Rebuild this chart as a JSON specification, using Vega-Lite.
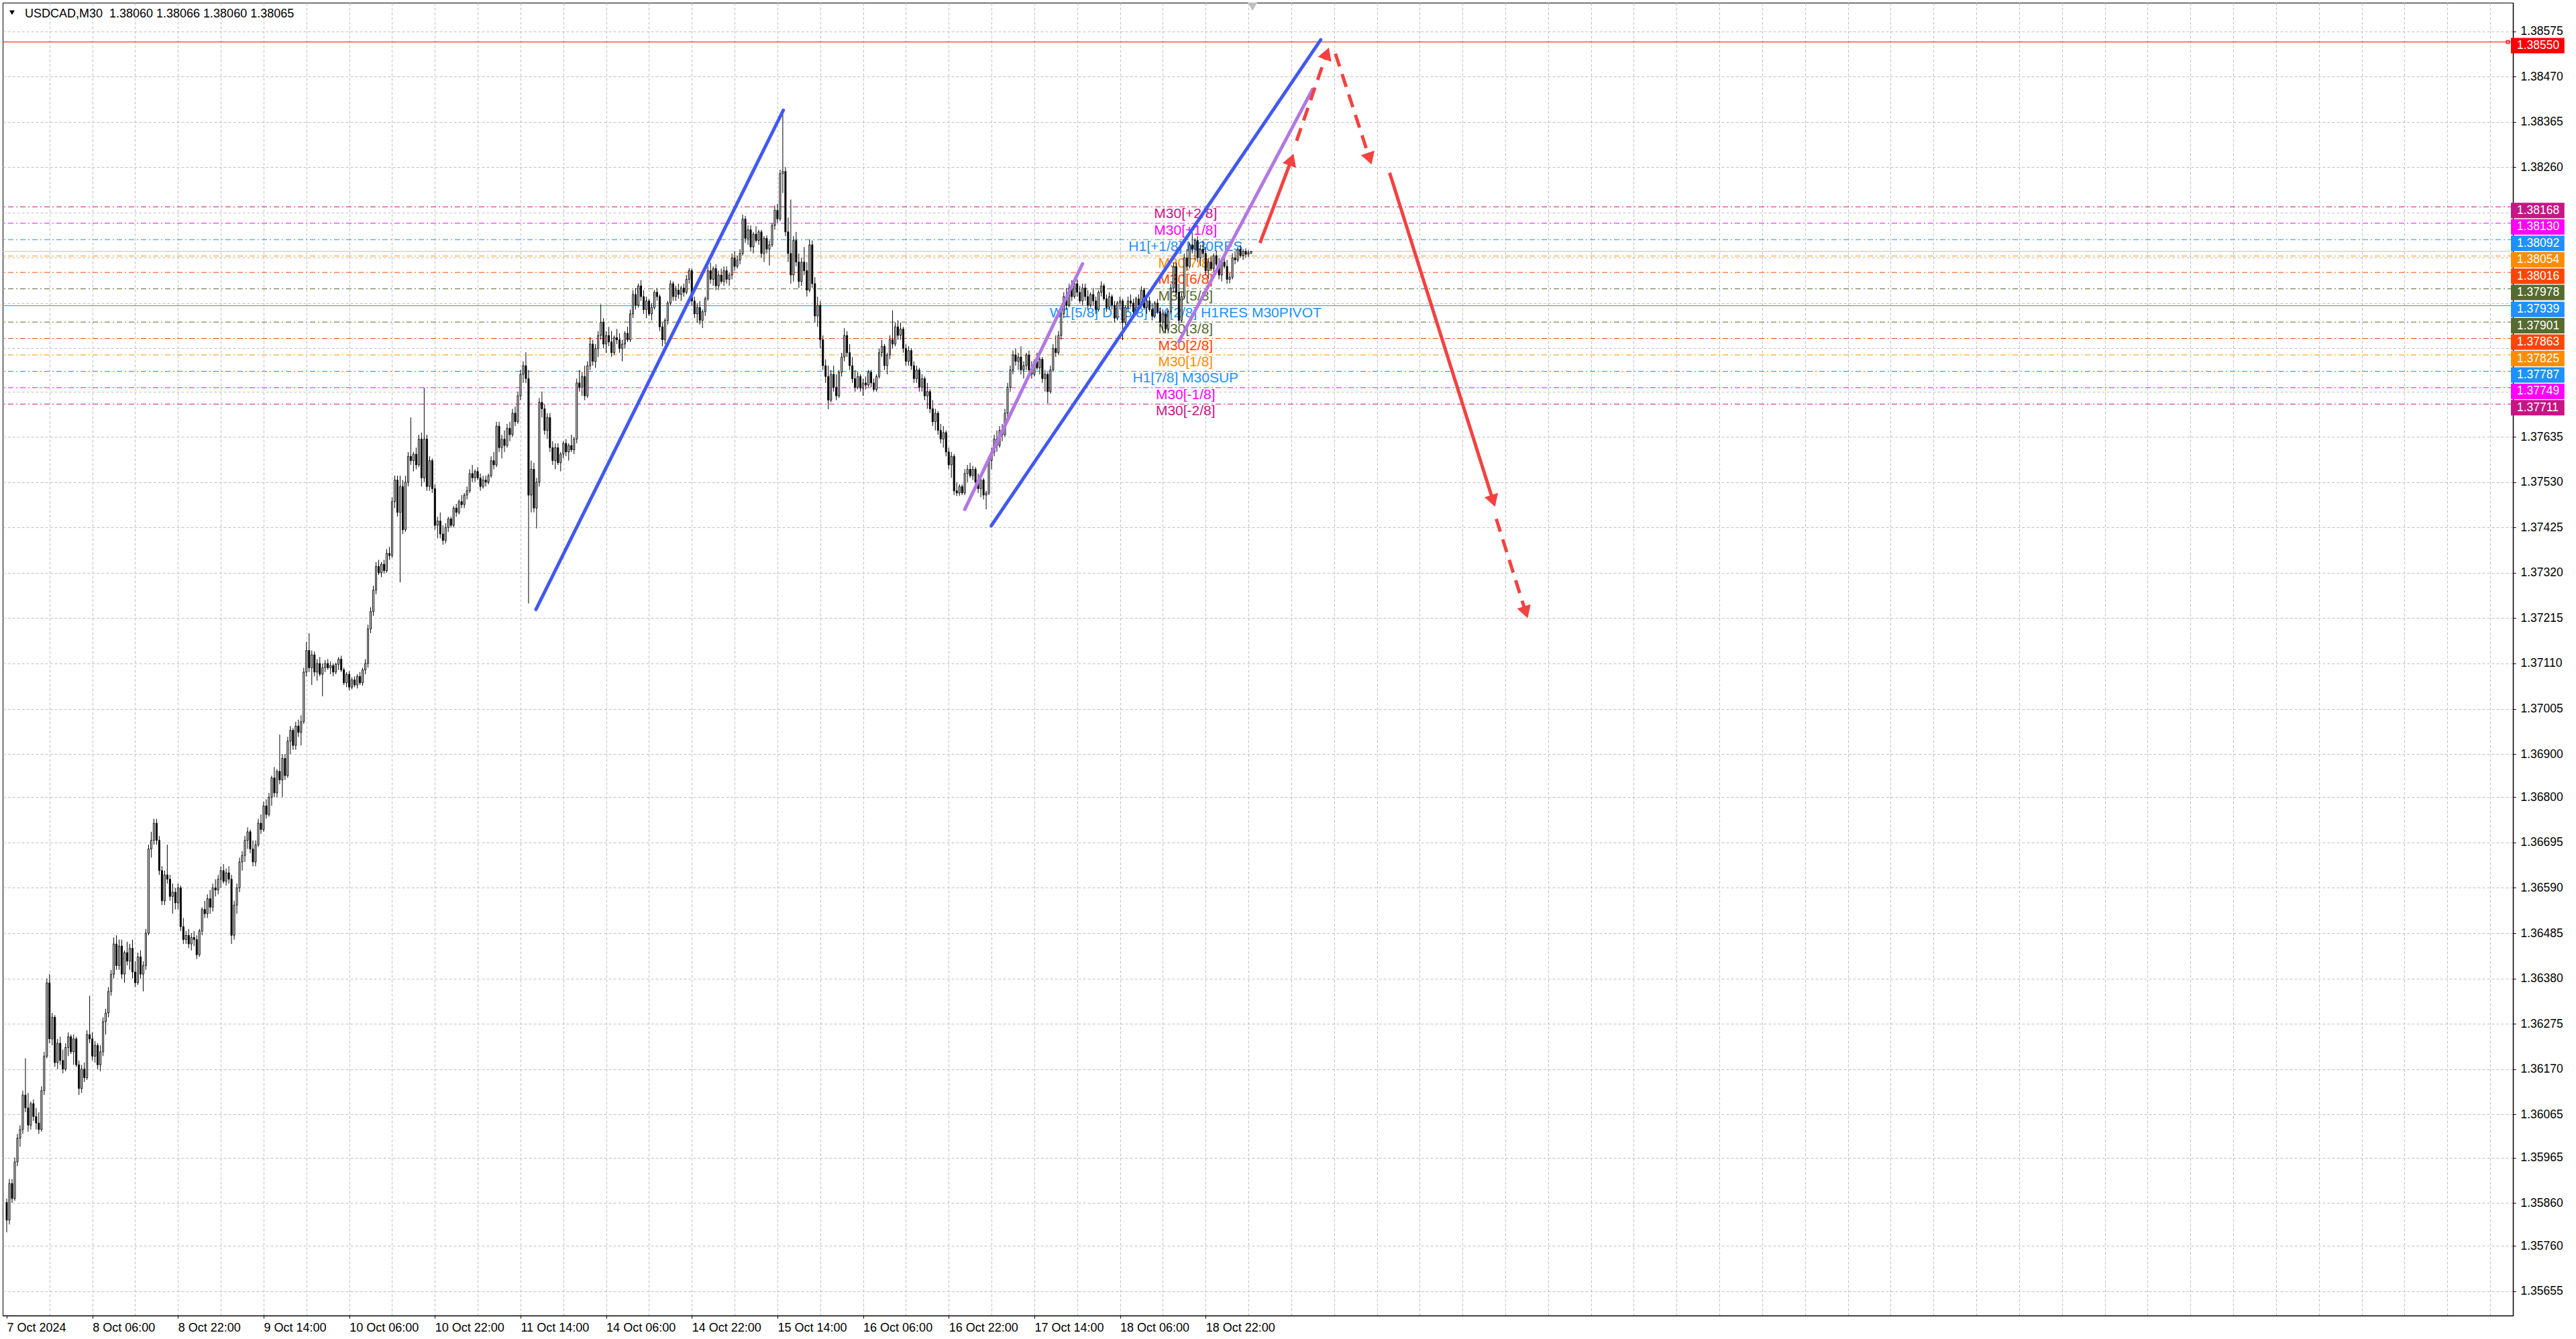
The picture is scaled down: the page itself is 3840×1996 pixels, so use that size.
{
"$schema":"https://vega.github.io/schema/vega-lite/v6.json",
"width":3742,"height":1957,
"autosize":{"type":"none"},
"padding":{"left":4,"top":4,"right":94,"bottom":35},
"background":"white",
"config":{"view":{"stroke":"black","strokeWidth":1},"font":"Liberation Sans"},
"datasets":{
"header":[{"text":"USDCAD,M30\u00a0\u00a01.38060 1.38066 1.38060 1.38065"}],
"levels":[
{"id":"tgt","label":"","price":1.38550},
{"id":"p2","label":"M30[+2/8]","price":1.38168},
{"id":"p1","label":"M30[+1/8]","price":1.38130},
{"id":"h1r","label":"H1[+1/8] M30RES","price":1.38092},
{"id":"m7","label":"M30[7/8]","price":1.38054},
{"id":"m6","label":"M30[6/8]","price":1.38016},
{"id":"m5","label":"M30[5/8]","price":1.37978},
{"id":"piv","label":"W1[5/8] D1[5/8] H4[2/8] H1RES M30PIVOT","price":1.37939},
{"id":"m3","label":"M30[3/8]","price":1.37901},
{"id":"m2","label":"M30[2/8]","price":1.37863},
{"id":"m1","label":"M30[1/8]","price":1.37825},
{"id":"h1s","label":"H1[7/8] M30SUP","price":1.37787},
{"id":"n1","label":"M30[-1/8]","price":1.37749},
{"id":"n2","label":"M30[-2/8]","price":1.37711},
{"id":"bid","label":"","price":1.38065}
],
"trend":[
{"id":"b1","k1":197.75,"p1":1.37235,"k2":290.2,"p2":1.38392},
{"id":"b2","k1":367.9,"p1":1.37429,"k2":491.0,"p2":1.38555},
{"id":"u1","k1":358.0,"p1":1.37467,"k2":402.0,"p2":1.38036},
{"id":"u2","k1":438.0,"p1":1.37856,"k2":487.9,"p2":1.38440}
],
"arrows":[
{"id":"a1","k1":468.3,"p1":1.38084,"k2":479.8,"p2":1.38273},
{"id":"a2","k1":482.0,"p1":1.38321,"k2":493.0,"p2":1.38519},
{"id":"a3","k1":496.5,"p1":1.38523,"k2":509.05,"p2":1.38284},
{"id":"a4","k1":516.75,"p1":1.38247,"k2":555.2,"p2":1.37491},
{"id":"a5","k1":556.6,"p1":1.37445,"k2":567.4,"p2":1.37233}
],
"bars":[
{"i":0,"o":1.35861,"h":1.35870,"l":1.35792,"c":1.35820},
{"i":1,"o":1.35820,"h":1.35915,"l":1.35810,"c":1.35905},
{"i":2,"o":1.35905,"h":1.35915,"l":1.35860,"c":1.35870},
{"i":3,"o":1.35870,"h":1.35965,"l":1.35865,"c":1.35955},
{"i":4,"o":1.35955,"h":1.36020,"l":1.35945,"c":1.36010},
{"i":5,"o":1.36010,"h":1.36040,"l":1.35990,"c":1.36030},
{"i":6,"o":1.36030,"h":1.36120,"l":1.36020,"c":1.36110},
{"i":7,"o":1.36110,"h":1.36195,"l":1.36070,"c":1.36080},
{"i":8,"o":1.36080,"h":1.36115,"l":1.36025,"c":1.36040},
{"i":9,"o":1.36040,"h":1.36095,"l":1.36030,"c":1.36090},
{"i":10,"o":1.36090,"h":1.36100,"l":1.36050,"c":1.36060},
{"i":11,"o":1.36060,"h":1.36080,"l":1.36030,"c":1.36045},
{"i":12,"o":1.36045,"h":1.36070,"l":1.36020,"c":1.36030},
{"i":13,"o":1.36030,"h":1.36130,"l":1.36025,"c":1.36120},
{"i":14,"o":1.36120,"h":1.36210,"l":1.36110,"c":1.36200},
{"i":15,"o":1.36200,"h":1.36380,"l":1.36195,"c":1.36370},
{"i":16,"o":1.36370,"h":1.36390,"l":1.36230,"c":1.36240},
{"i":17,"o":1.36240,"h":1.36300,"l":1.36225,"c":1.36290},
{"i":18,"o":1.36290,"h":1.36295,"l":1.36175,"c":1.36185},
{"i":19,"o":1.36185,"h":1.36240,"l":1.36170,"c":1.36230},
{"i":20,"o":1.36230,"h":1.36245,"l":1.36180,"c":1.36190},
{"i":21,"o":1.36190,"h":1.36215,"l":1.36160,"c":1.36170},
{"i":22,"o":1.36170,"h":1.36230,"l":1.36165,"c":1.36220},
{"i":23,"o":1.36220,"h":1.36255,"l":1.36200,"c":1.36245},
{"i":24,"o":1.36245,"h":1.36250,"l":1.36205,"c":1.36210},
{"i":25,"o":1.36210,"h":1.36250,"l":1.36180,"c":1.36240},
{"i":26,"o":1.36240,"h":1.36245,"l":1.36175,"c":1.36180},
{"i":27,"o":1.36180,"h":1.36190,"l":1.36110,"c":1.36125},
{"i":28,"o":1.36125,"h":1.36180,"l":1.36115,"c":1.36170},
{"i":29,"o":1.36170,"h":1.36185,"l":1.36140,"c":1.36150},
{"i":30,"o":1.36150,"h":1.36260,"l":1.36145,"c":1.36250},
{"i":31,"o":1.36250,"h":1.36340,"l":1.36230,"c":1.36240},
{"i":32,"o":1.36240,"h":1.36255,"l":1.36190,"c":1.36200},
{"i":33,"o":1.36200,"h":1.36235,"l":1.36185,"c":1.36225},
{"i":34,"o":1.36225,"h":1.36230,"l":1.36170,"c":1.36180},
{"i":35,"o":1.36180,"h":1.36225,"l":1.36165,"c":1.36210},
{"i":36,"o":1.36210,"h":1.36290,"l":1.36200,"c":1.36280},
{"i":37,"o":1.36280,"h":1.36310,"l":1.36250,"c":1.36300},
{"i":38,"o":1.36300,"h":1.36360,"l":1.36290,"c":1.36350},
{"i":39,"o":1.36350,"h":1.36400,"l":1.36340,"c":1.36390},
{"i":40,"o":1.36390,"h":1.36475,"l":1.36380,"c":1.36460},
{"i":41,"o":1.36460,"h":1.36480,"l":1.36400,"c":1.36410},
{"i":42,"o":1.36410,"h":1.36470,"l":1.36400,"c":1.36455},
{"i":43,"o":1.36455,"h":1.36470,"l":1.36380,"c":1.36390},
{"i":44,"o":1.36390,"h":1.36445,"l":1.36370,"c":1.36440},
{"i":45,"o":1.36440,"h":1.36465,"l":1.36410,"c":1.36420},
{"i":46,"o":1.36420,"h":1.36460,"l":1.36400,"c":1.36450},
{"i":47,"o":1.36450,"h":1.36470,"l":1.36380,"c":1.36395},
{"i":48,"o":1.36395,"h":1.36420,"l":1.36360,"c":1.36370},
{"i":49,"o":1.36370,"h":1.36440,"l":1.36365,"c":1.36430},
{"i":50,"o":1.36430,"h":1.36445,"l":1.36380,"c":1.36390},
{"i":51,"o":1.36390,"h":1.36420,"l":1.36350,"c":1.36410},
{"i":52,"o":1.36410,"h":1.36495,"l":1.36400,"c":1.36485},
{"i":53,"o":1.36485,"h":1.36690,"l":1.36480,"c":1.36680},
{"i":54,"o":1.36680,"h":1.36720,"l":1.36660,"c":1.36700},
{"i":55,"o":1.36700,"h":1.36750,"l":1.36690,"c":1.36740},
{"i":56,"o":1.36740,"h":1.36750,"l":1.36690,"c":1.36700},
{"i":57,"o":1.36700,"h":1.36710,"l":1.36620,"c":1.36630},
{"i":58,"o":1.36630,"h":1.36640,"l":1.36550,"c":1.36560},
{"i":59,"o":1.36560,"h":1.36630,"l":1.36550,"c":1.36620},
{"i":60,"o":1.36620,"h":1.36690,"l":1.36600,"c":1.36610},
{"i":61,"o":1.36610,"h":1.36620,"l":1.36560,"c":1.36570},
{"i":62,"o":1.36570,"h":1.36600,"l":1.36530,"c":1.36580},
{"i":63,"o":1.36580,"h":1.36590,"l":1.36540,"c":1.36555},
{"i":64,"o":1.36555,"h":1.36600,"l":1.36540,"c":1.36590},
{"i":65,"o":1.36590,"h":1.36595,"l":1.36490,"c":1.36500},
{"i":66,"o":1.36500,"h":1.36520,"l":1.36460,"c":1.36470},
{"i":67,"o":1.36470,"h":1.36490,"l":1.36460,"c":1.36480},
{"i":68,"o":1.36480,"h":1.36495,"l":1.36450,"c":1.36460},
{"i":69,"o":1.36460,"h":1.36485,"l":1.36445,"c":1.36475},
{"i":70,"o":1.36475,"h":1.36490,"l":1.36455,"c":1.36470},
{"i":71,"o":1.36470,"h":1.36480,"l":1.36425,"c":1.36435},
{"i":72,"o":1.36435,"h":1.36495,"l":1.36430,"c":1.36490},
{"i":73,"o":1.36490,"h":1.36545,"l":1.36480,"c":1.36540},
{"i":74,"o":1.36540,"h":1.36560,"l":1.36520,"c":1.36530},
{"i":75,"o":1.36530,"h":1.36575,"l":1.36520,"c":1.36565},
{"i":76,"o":1.36565,"h":1.36585,"l":1.36530,"c":1.36545},
{"i":77,"o":1.36545,"h":1.36600,"l":1.36535,"c":1.36590},
{"i":78,"o":1.36590,"h":1.36610,"l":1.36570,"c":1.36585},
{"i":79,"o":1.36585,"h":1.36620,"l":1.36575,"c":1.36610},
{"i":80,"o":1.36610,"h":1.36640,"l":1.36590,"c":1.36630},
{"i":81,"o":1.36630,"h":1.36645,"l":1.36600,"c":1.36605},
{"i":82,"o":1.36605,"h":1.36635,"l":1.36595,"c":1.36625},
{"i":83,"o":1.36625,"h":1.36640,"l":1.36600,"c":1.36610},
{"i":84,"o":1.36610,"h":1.36620,"l":1.36460,"c":1.36480},
{"i":85,"o":1.36480,"h":1.36560,"l":1.36470,"c":1.36550},
{"i":86,"o":1.36550,"h":1.36600,"l":1.36530,"c":1.36590},
{"i":87,"o":1.36590,"h":1.36660,"l":1.36580,"c":1.36650},
{"i":88,"o":1.36650,"h":1.36675,"l":1.36630,"c":1.36665},
{"i":89,"o":1.36665,"h":1.36710,"l":1.36650,"c":1.36700},
{"i":90,"o":1.36700,"h":1.36730,"l":1.36680,"c":1.36720},
{"i":91,"o":1.36720,"h":1.36725,"l":1.36670,"c":1.36680},
{"i":92,"o":1.36680,"h":1.36700,"l":1.36640,"c":1.36650},
{"i":93,"o":1.36650,"h":1.36700,"l":1.36640,"c":1.36690},
{"i":94,"o":1.36690,"h":1.36750,"l":1.36685,"c":1.36740},
{"i":95,"o":1.36740,"h":1.36760,"l":1.36715,"c":1.36725},
{"i":96,"o":1.36725,"h":1.36790,"l":1.36720,"c":1.36780},
{"i":97,"o":1.36780,"h":1.36795,"l":1.36750,"c":1.36760},
{"i":98,"o":1.36760,"h":1.36810,"l":1.36755,"c":1.36800},
{"i":99,"o":1.36800,"h":1.36850,"l":1.36780,"c":1.36845},
{"i":100,"o":1.36845,"h":1.36870,"l":1.36800,"c":1.36810},
{"i":101,"o":1.36810,"h":1.36865,"l":1.36800,"c":1.36860},
{"i":102,"o":1.36860,"h":1.36945,"l":1.36830,"c":1.36840},
{"i":103,"o":1.36840,"h":1.36900,"l":1.36800,"c":1.36890},
{"i":104,"o":1.36890,"h":1.36900,"l":1.36840,"c":1.36850},
{"i":105,"o":1.36850,"h":1.36940,"l":1.36845,"c":1.36930},
{"i":106,"o":1.36930,"h":1.36965,"l":1.36900,"c":1.36955},
{"i":107,"o":1.36955,"h":1.36960,"l":1.36910,"c":1.36920},
{"i":108,"o":1.36920,"h":1.36975,"l":1.36910,"c":1.36965},
{"i":109,"o":1.36965,"h":1.36980,"l":1.36940,"c":1.36950},
{"i":110,"o":1.36950,"h":1.36990,"l":1.36920,"c":1.36975},
{"i":111,"o":1.36975,"h":1.37100,"l":1.36970,"c":1.37090},
{"i":112,"o":1.37090,"h":1.37160,"l":1.37080,"c":1.37140},
{"i":113,"o":1.37140,"h":1.37180,"l":1.37090,"c":1.37100},
{"i":114,"o":1.37100,"h":1.37140,"l":1.37060,"c":1.37130},
{"i":115,"o":1.37130,"h":1.37138,"l":1.37080,"c":1.37090},
{"i":116,"o":1.37090,"h":1.37120,"l":1.37070,"c":1.37110},
{"i":117,"o":1.37110,"h":1.37125,"l":1.37080,"c":1.37085},
{"i":118,"o":1.37085,"h":1.37110,"l":1.37034,"c":1.37100},
{"i":119,"o":1.37100,"h":1.37118,"l":1.37090,"c":1.37110},
{"i":120,"o":1.37110,"h":1.37120,"l":1.37095,"c":1.37100},
{"i":121,"o":1.37100,"h":1.37115,"l":1.37085,"c":1.37105},
{"i":122,"o":1.37105,"h":1.37110,"l":1.37080,"c":1.37090},
{"i":123,"o":1.37090,"h":1.37112,"l":1.37085,"c":1.37108},
{"i":124,"o":1.37108,"h":1.37125,"l":1.37095,"c":1.37120},
{"i":125,"o":1.37120,"h":1.37128,"l":1.37090,"c":1.37095},
{"i":126,"o":1.37095,"h":1.37100,"l":1.37060,"c":1.37065},
{"i":127,"o":1.37065,"h":1.37090,"l":1.37055,"c":1.37085},
{"i":128,"o":1.37085,"h":1.37092,"l":1.37048,"c":1.37055},
{"i":129,"o":1.37055,"h":1.37078,"l":1.37050,"c":1.37072},
{"i":130,"o":1.37072,"h":1.37080,"l":1.37055,"c":1.37060},
{"i":131,"o":1.37060,"h":1.37085,"l":1.37052,"c":1.37080},
{"i":132,"o":1.37080,"h":1.37090,"l":1.37060,"c":1.37065},
{"i":133,"o":1.37065,"h":1.37100,"l":1.37058,"c":1.37095},
{"i":134,"o":1.37095,"h":1.37120,"l":1.37085,"c":1.37110},
{"i":135,"o":1.37110,"h":1.37200,"l":1.37100,"c":1.37190},
{"i":136,"o":1.37190,"h":1.37240,"l":1.37180,"c":1.37230},
{"i":137,"o":1.37230,"h":1.37290,"l":1.37220,"c":1.37280},
{"i":138,"o":1.37280,"h":1.37345,"l":1.37270,"c":1.37335},
{"i":139,"o":1.37335,"h":1.37350,"l":1.37315,"c":1.37320},
{"i":140,"o":1.37320,"h":1.37345,"l":1.37310,"c":1.37340},
{"i":141,"o":1.37340,"h":1.37350,"l":1.37318,"c":1.37325},
{"i":142,"o":1.37325,"h":1.37375,"l":1.37320,"c":1.37365},
{"i":143,"o":1.37365,"h":1.37380,"l":1.37350,"c":1.37360},
{"i":144,"o":1.37360,"h":1.37495,"l":1.37355,"c":1.37485},
{"i":145,"o":1.37485,"h":1.37545,"l":1.37470,"c":1.37535},
{"i":146,"o":1.37535,"h":1.37545,"l":1.37450,"c":1.37460},
{"i":147,"o":1.37460,"h":1.37545,"l":1.37298,"c":1.37520},
{"i":148,"o":1.37520,"h":1.37535,"l":1.37410,"c":1.37420},
{"i":149,"o":1.37420,"h":1.37545,"l":1.37415,"c":1.37530},
{"i":150,"o":1.37530,"h":1.37600,"l":1.37520,"c":1.37590},
{"i":151,"o":1.37590,"h":1.37680,"l":1.37570,"c":1.37580},
{"i":152,"o":1.37580,"h":1.37600,"l":1.37555,"c":1.37595},
{"i":153,"o":1.37595,"h":1.37610,"l":1.37560,"c":1.37570},
{"i":154,"o":1.37570,"h":1.37640,"l":1.37565,"c":1.37630},
{"i":155,"o":1.37630,"h":1.37645,"l":1.37520,"c":1.37540},
{"i":156,"o":1.37540,"h":1.37749,"l":1.37530,"c":1.37630},
{"i":157,"o":1.37630,"h":1.37640,"l":1.37510,"c":1.37520},
{"i":158,"o":1.37520,"h":1.37590,"l":1.37510,"c":1.37580},
{"i":159,"o":1.37580,"h":1.37585,"l":1.37505,"c":1.37515},
{"i":160,"o":1.37515,"h":1.37525,"l":1.37420,"c":1.37430},
{"i":161,"o":1.37430,"h":1.37450,"l":1.37400,"c":1.37440},
{"i":162,"o":1.37440,"h":1.37460,"l":1.37400,"c":1.37410},
{"i":163,"o":1.37410,"h":1.37430,"l":1.37385,"c":1.37395},
{"i":164,"o":1.37395,"h":1.37435,"l":1.37388,"c":1.37425},
{"i":165,"o":1.37425,"h":1.37450,"l":1.37415,"c":1.37445},
{"i":166,"o":1.37445,"h":1.37450,"l":1.37425,"c":1.37430},
{"i":167,"o":1.37430,"h":1.37475,"l":1.37425,"c":1.37470},
{"i":168,"o":1.37470,"h":1.37480,"l":1.37450,"c":1.37460},
{"i":169,"o":1.37460,"h":1.37490,"l":1.37455,"c":1.37485},
{"i":170,"o":1.37485,"h":1.37500,"l":1.37470,"c":1.37478},
{"i":171,"o":1.37478,"h":1.37505,"l":1.37470,"c":1.37500},
{"i":172,"o":1.37500,"h":1.37520,"l":1.37490,"c":1.37510},
{"i":173,"o":1.37510,"h":1.37560,"l":1.37505,"c":1.37550},
{"i":174,"o":1.37550,"h":1.37570,"l":1.37530,"c":1.37540},
{"i":175,"o":1.37540,"h":1.37560,"l":1.37530,"c":1.37555},
{"i":176,"o":1.37555,"h":1.37565,"l":1.37535,"c":1.37540},
{"i":177,"o":1.37540,"h":1.37550,"l":1.37510,"c":1.37520},
{"i":178,"o":1.37520,"h":1.37545,"l":1.37515,"c":1.37535},
{"i":179,"o":1.37535,"h":1.37545,"l":1.37520,"c":1.37530},
{"i":180,"o":1.37530,"h":1.37550,"l":1.37525,"c":1.37545},
{"i":181,"o":1.37545,"h":1.37590,"l":1.37540,"c":1.37580},
{"i":182,"o":1.37580,"h":1.37600,"l":1.37560,"c":1.37570},
{"i":183,"o":1.37570,"h":1.37670,"l":1.37565,"c":1.37660},
{"i":184,"o":1.37660,"h":1.37670,"l":1.37600,"c":1.37610},
{"i":185,"o":1.37610,"h":1.37640,"l":1.37585,"c":1.37630},
{"i":186,"o":1.37630,"h":1.37650,"l":1.37600,"c":1.37615},
{"i":187,"o":1.37615,"h":1.37665,"l":1.37610,"c":1.37655},
{"i":188,"o":1.37655,"h":1.37670,"l":1.37625,"c":1.37640},
{"i":189,"o":1.37640,"h":1.37700,"l":1.37635,"c":1.37690},
{"i":190,"o":1.37690,"h":1.37705,"l":1.37660,"c":1.37670},
{"i":191,"o":1.37670,"h":1.37740,"l":1.37665,"c":1.37730},
{"i":192,"o":1.37730,"h":1.37790,"l":1.37720,"c":1.37780},
{"i":193,"o":1.37780,"h":1.37810,"l":1.37760,"c":1.37800},
{"i":194,"o":1.37800,"h":1.37831,"l":1.37760,"c":1.37770},
{"i":195,"o":1.37770,"h":1.37790,"l":1.37249,"c":1.37500},
{"i":196,"o":1.37500,"h":1.37580,"l":1.37460,"c":1.37560},
{"i":197,"o":1.37560,"h":1.37575,"l":1.37460,"c":1.37470},
{"i":198,"o":1.37470,"h":1.37540,"l":1.37423,"c":1.37530},
{"i":199,"o":1.37530,"h":1.37725,"l":1.37520,"c":1.37715},
{"i":200,"o":1.37715,"h":1.37740,"l":1.37680,"c":1.37700},
{"i":201,"o":1.37700,"h":1.37710,"l":1.37640,"c":1.37650},
{"i":202,"o":1.37650,"h":1.37690,"l":1.37630,"c":1.37680},
{"i":203,"o":1.37680,"h":1.37690,"l":1.37600,"c":1.37610},
{"i":204,"o":1.37610,"h":1.37625,"l":1.37570,"c":1.37580},
{"i":205,"o":1.37580,"h":1.37620,"l":1.37560,"c":1.37610},
{"i":206,"o":1.37610,"h":1.37620,"l":1.37570,"c":1.37575},
{"i":207,"o":1.37575,"h":1.37600,"l":1.37555,"c":1.37595},
{"i":208,"o":1.37595,"h":1.37625,"l":1.37585,"c":1.37620},
{"i":209,"o":1.37620,"h":1.37630,"l":1.37590,"c":1.37600},
{"i":210,"o":1.37600,"h":1.37620,"l":1.37580,"c":1.37615},
{"i":211,"o":1.37615,"h":1.37640,"l":1.37600,"c":1.37605},
{"i":212,"o":1.37605,"h":1.37635,"l":1.37595,"c":1.37630},
{"i":213,"o":1.37630,"h":1.37770,"l":1.37620,"c":1.37760},
{"i":214,"o":1.37760,"h":1.37790,"l":1.37740,"c":1.37750},
{"i":215,"o":1.37750,"h":1.37785,"l":1.37730,"c":1.37775},
{"i":216,"o":1.37775,"h":1.37800,"l":1.37720,"c":1.37730},
{"i":217,"o":1.37730,"h":1.37810,"l":1.37725,"c":1.37800},
{"i":218,"o":1.37800,"h":1.37866,"l":1.37790,"c":1.37850},
{"i":219,"o":1.37850,"h":1.37860,"l":1.37800,"c":1.37810},
{"i":220,"o":1.37810,"h":1.37850,"l":1.37795,"c":1.37840},
{"i":221,"o":1.37840,"h":1.37880,"l":1.37820,"c":1.37870},
{"i":222,"o":1.37870,"h":1.37942,"l":1.37860,"c":1.37900},
{"i":223,"o":1.37900,"h":1.37910,"l":1.37840,"c":1.37850},
{"i":224,"o":1.37850,"h":1.37880,"l":1.37830,"c":1.37870},
{"i":225,"o":1.37870,"h":1.37890,"l":1.37845,"c":1.37855},
{"i":226,"o":1.37855,"h":1.37880,"l":1.37820,"c":1.37830},
{"i":227,"o":1.37830,"h":1.37870,"l":1.37825,"c":1.37865},
{"i":228,"o":1.37865,"h":1.37885,"l":1.37850,"c":1.37860},
{"i":229,"o":1.37860,"h":1.37875,"l":1.37830,"c":1.37840},
{"i":230,"o":1.37840,"h":1.37860,"l":1.37810,"c":1.37850},
{"i":231,"o":1.37850,"h":1.37880,"l":1.37840,"c":1.37875},
{"i":232,"o":1.37875,"h":1.37890,"l":1.37855,"c":1.37860},
{"i":233,"o":1.37860,"h":1.37930,"l":1.37855,"c":1.37920},
{"i":234,"o":1.37920,"h":1.37975,"l":1.37910,"c":1.37965},
{"i":235,"o":1.37965,"h":1.37980,"l":1.37930,"c":1.37940},
{"i":236,"o":1.37940,"h":1.37990,"l":1.37935,"c":1.37985},
{"i":237,"o":1.37985,"h":1.37998,"l":1.37950,"c":1.37960},
{"i":238,"o":1.37960,"h":1.37975,"l":1.37920,"c":1.37930},
{"i":239,"o":1.37930,"h":1.37960,"l":1.37910,"c":1.37950},
{"i":240,"o":1.37950,"h":1.37955,"l":1.37915,"c":1.37920},
{"i":241,"o":1.37920,"h":1.37945,"l":1.37905,"c":1.37935},
{"i":242,"o":1.37935,"h":1.37975,"l":1.37930,"c":1.37970},
{"i":243,"o":1.37970,"h":1.37980,"l":1.37950,"c":1.37960},
{"i":244,"o":1.37960,"h":1.37965,"l":1.37880,"c":1.37890},
{"i":245,"o":1.37890,"h":1.37900,"l":1.37845,"c":1.37860},
{"i":246,"o":1.37860,"h":1.37910,"l":1.37850,"c":1.37905},
{"i":247,"o":1.37905,"h":1.37950,"l":1.37895,"c":1.37945},
{"i":248,"o":1.37945,"h":1.37998,"l":1.37940,"c":1.37990},
{"i":249,"o":1.37990,"h":1.37995,"l":1.37950,"c":1.37960},
{"i":250,"o":1.37960,"h":1.37985,"l":1.37950,"c":1.37975},
{"i":251,"o":1.37975,"h":1.37990,"l":1.37955,"c":1.37965},
{"i":252,"o":1.37965,"h":1.37985,"l":1.37950,"c":1.37980},
{"i":253,"o":1.37980,"h":1.37990,"l":1.37960,"c":1.37970},
{"i":254,"o":1.37970,"h":1.38010,"l":1.37965,"c":1.38000},
{"i":255,"o":1.38000,"h":1.38026,"l":1.37990,"c":1.38020},
{"i":256,"o":1.38020,"h":1.38025,"l":1.37940,"c":1.37950},
{"i":257,"o":1.37950,"h":1.37960,"l":1.37910,"c":1.37920},
{"i":258,"o":1.37920,"h":1.37945,"l":1.37900,"c":1.37935},
{"i":259,"o":1.37935,"h":1.37950,"l":1.37895,"c":1.37905},
{"i":260,"o":1.37905,"h":1.37930,"l":1.37887,"c":1.37925},
{"i":261,"o":1.37925,"h":1.37960,"l":1.37915,"c":1.37955},
{"i":262,"o":1.37955,"h":1.38030,"l":1.37950,"c":1.38020},
{"i":263,"o":1.38020,"h":1.38039,"l":1.37990,"c":1.38000},
{"i":264,"o":1.38000,"h":1.38030,"l":1.37985,"c":1.38025},
{"i":265,"o":1.38025,"h":1.38035,"l":1.37975,"c":1.37985},
{"i":266,"o":1.37985,"h":1.38020,"l":1.37975,"c":1.38010},
{"i":267,"o":1.38010,"h":1.38025,"l":1.37990,"c":1.37995},
{"i":268,"o":1.37995,"h":1.38030,"l":1.37985,"c":1.38020},
{"i":269,"o":1.38020,"h":1.38030,"l":1.37990,"c":1.38000},
{"i":270,"o":1.38000,"h":1.38015,"l":1.37985,"c":1.38010},
{"i":271,"o":1.38010,"h":1.38060,"l":1.38000,"c":1.38050},
{"i":272,"o":1.38050,"h":1.38065,"l":1.38020,"c":1.38030},
{"i":273,"o":1.38030,"h":1.38055,"l":1.38025,"c":1.38045},
{"i":274,"o":1.38045,"h":1.38070,"l":1.38035,"c":1.38060},
{"i":275,"o":1.38060,"h":1.38150,"l":1.38055,"c":1.38140},
{"i":276,"o":1.38140,"h":1.38147,"l":1.38085,"c":1.38095},
{"i":277,"o":1.38095,"h":1.38125,"l":1.38080,"c":1.38115},
{"i":278,"o":1.38115,"h":1.38125,"l":1.38065,"c":1.38075},
{"i":279,"o":1.38075,"h":1.38110,"l":1.38060,"c":1.38105},
{"i":280,"o":1.38105,"h":1.38123,"l":1.38085,"c":1.38090},
{"i":281,"o":1.38090,"h":1.38115,"l":1.38080,"c":1.38110},
{"i":282,"o":1.38110,"h":1.38115,"l":1.38050,"c":1.38060},
{"i":283,"o":1.38060,"h":1.38100,"l":1.38040,"c":1.38095},
{"i":284,"o":1.38095,"h":1.38102,"l":1.38060,"c":1.38070},
{"i":285,"o":1.38070,"h":1.38090,"l":1.38032,"c":1.38080},
{"i":286,"o":1.38080,"h":1.38130,"l":1.38075,"c":1.38125},
{"i":287,"o":1.38125,"h":1.38171,"l":1.38115,"c":1.38160},
{"i":288,"o":1.38160,"h":1.38175,"l":1.38130,"c":1.38140},
{"i":289,"o":1.38140,"h":1.38254,"l":1.38135,"c":1.38245},
{"i":290,"o":1.38245,"h":1.38386,"l":1.38200,"c":1.38250},
{"i":291,"o":1.38250,"h":1.38260,"l":1.38100,"c":1.38110},
{"i":292,"o":1.38110,"h":1.38143,"l":1.38040,"c":1.38060},
{"i":293,"o":1.38060,"h":1.38185,"l":1.37990,"c":1.38010},
{"i":294,"o":1.38010,"h":1.38100,"l":1.37995,"c":1.38090},
{"i":295,"o":1.38090,"h":1.38110,"l":1.38030,"c":1.38040},
{"i":296,"o":1.38040,"h":1.38060,"l":1.37980,"c":1.37995},
{"i":297,"o":1.37995,"h":1.38050,"l":1.37985,"c":1.38040},
{"i":298,"o":1.38040,"h":1.38075,"l":1.38010,"c":1.38020},
{"i":299,"o":1.38020,"h":1.38040,"l":1.37960,"c":1.37975},
{"i":300,"o":1.37975,"h":1.38092,"l":1.37970,"c":1.38080},
{"i":301,"o":1.38080,"h":1.38090,"l":1.37980,"c":1.37990},
{"i":302,"o":1.37990,"h":1.38005,"l":1.37900,"c":1.37915},
{"i":303,"o":1.37915,"h":1.37960,"l":1.37890,"c":1.37940},
{"i":304,"o":1.37940,"h":1.37950,"l":1.37840,"c":1.37860},
{"i":305,"o":1.37860,"h":1.37870,"l":1.37790,"c":1.37800},
{"i":306,"o":1.37800,"h":1.37815,"l":1.37760,"c":1.37775},
{"i":307,"o":1.37775,"h":1.37800,"l":1.37699,"c":1.37720},
{"i":308,"o":1.37720,"h":1.37790,"l":1.37715,"c":1.37780},
{"i":309,"o":1.37780,"h":1.37800,"l":1.37740,"c":1.37750},
{"i":310,"o":1.37750,"h":1.37780,"l":1.37720,"c":1.37730},
{"i":311,"o":1.37730,"h":1.37790,"l":1.37725,"c":1.37785},
{"i":312,"o":1.37785,"h":1.37830,"l":1.37775,"c":1.37820},
{"i":313,"o":1.37820,"h":1.37887,"l":1.37810,"c":1.37870},
{"i":314,"o":1.37870,"h":1.37880,"l":1.37820,"c":1.37830},
{"i":315,"o":1.37830,"h":1.37850,"l":1.37790,"c":1.37800},
{"i":316,"o":1.37800,"h":1.37820,"l":1.37760,"c":1.37770},
{"i":317,"o":1.37770,"h":1.37790,"l":1.37740,"c":1.37750},
{"i":318,"o":1.37750,"h":1.37785,"l":1.37745,"c":1.37775},
{"i":319,"o":1.37775,"h":1.37780,"l":1.37740,"c":1.37748},
{"i":320,"o":1.37748,"h":1.37770,"l":1.37730,"c":1.37760},
{"i":321,"o":1.37760,"h":1.37775,"l":1.37745,"c":1.37755},
{"i":322,"o":1.37755,"h":1.37790,"l":1.37750,"c":1.37785},
{"i":323,"o":1.37785,"h":1.37790,"l":1.37750,"c":1.37760},
{"i":324,"o":1.37760,"h":1.37770,"l":1.37740,"c":1.37745},
{"i":325,"o":1.37745,"h":1.37780,"l":1.37740,"c":1.37775},
{"i":326,"o":1.37775,"h":1.37840,"l":1.37770,"c":1.37830},
{"i":327,"o":1.37830,"h":1.37860,"l":1.37820,"c":1.37845},
{"i":328,"o":1.37845,"h":1.37850,"l":1.37790,"c":1.37800},
{"i":329,"o":1.37800,"h":1.37830,"l":1.37780,"c":1.37825},
{"i":330,"o":1.37825,"h":1.37870,"l":1.37815,"c":1.37860},
{"i":331,"o":1.37860,"h":1.37928,"l":1.37840,"c":1.37850},
{"i":332,"o":1.37850,"h":1.37900,"l":1.37845,"c":1.37890},
{"i":333,"o":1.37890,"h":1.37905,"l":1.37860,"c":1.37870},
{"i":334,"o":1.37870,"h":1.37900,"l":1.37860,"c":1.37885},
{"i":335,"o":1.37885,"h":1.37890,"l":1.37830,"c":1.37840},
{"i":336,"o":1.37840,"h":1.37850,"l":1.37800,"c":1.37810},
{"i":337,"o":1.37810,"h":1.37845,"l":1.37800,"c":1.37835},
{"i":338,"o":1.37835,"h":1.37840,"l":1.37790,"c":1.37800},
{"i":339,"o":1.37800,"h":1.37810,"l":1.37760,"c":1.37770},
{"i":340,"o":1.37770,"h":1.37800,"l":1.37760,"c":1.37790},
{"i":341,"o":1.37790,"h":1.37795,"l":1.37740,"c":1.37750},
{"i":342,"o":1.37750,"h":1.37780,"l":1.37740,"c":1.37770},
{"i":343,"o":1.37770,"h":1.37775,"l":1.37720,"c":1.37730},
{"i":344,"o":1.37730,"h":1.37760,"l":1.37700,"c":1.37740},
{"i":345,"o":1.37740,"h":1.37745,"l":1.37690,"c":1.37700},
{"i":346,"o":1.37700,"h":1.37720,"l":1.37660,"c":1.37670},
{"i":347,"o":1.37670,"h":1.37700,"l":1.37650,"c":1.37690},
{"i":348,"o":1.37690,"h":1.37695,"l":1.37640,"c":1.37650},
{"i":349,"o":1.37650,"h":1.37665,"l":1.37620,"c":1.37630},
{"i":350,"o":1.37630,"h":1.37660,"l":1.37610,"c":1.37645},
{"i":351,"o":1.37645,"h":1.37650,"l":1.37590,"c":1.37600},
{"i":352,"o":1.37600,"h":1.37610,"l":1.37560,"c":1.37570},
{"i":353,"o":1.37570,"h":1.37600,"l":1.37540,"c":1.37590},
{"i":354,"o":1.37590,"h":1.37595,"l":1.37500,"c":1.37510},
{"i":355,"o":1.37510,"h":1.37530,"l":1.37498,"c":1.37505},
{"i":356,"o":1.37505,"h":1.37525,"l":1.37498,"c":1.37520},
{"i":357,"o":1.37520,"h":1.37525,"l":1.37500,"c":1.37505},
{"i":358,"o":1.37505,"h":1.37560,"l":1.37500,"c":1.37550},
{"i":359,"o":1.37550,"h":1.37570,"l":1.37530,"c":1.37560},
{"i":360,"o":1.37560,"h":1.37575,"l":1.37540,"c":1.37545},
{"i":361,"o":1.37545,"h":1.37568,"l":1.37535,"c":1.37560},
{"i":362,"o":1.37560,"h":1.37565,"l":1.37520,"c":1.37530},
{"i":363,"o":1.37530,"h":1.37550,"l":1.37505,"c":1.37515},
{"i":364,"o":1.37515,"h":1.37540,"l":1.37495,"c":1.37535},
{"i":365,"o":1.37535,"h":1.37540,"l":1.37490,"c":1.37500},
{"i":366,"o":1.37500,"h":1.37510,"l":1.37467,"c":1.37505},
{"i":367,"o":1.37505,"h":1.37590,"l":1.37500,"c":1.37580},
{"i":368,"o":1.37580,"h":1.37610,"l":1.37560,"c":1.37600},
{"i":369,"o":1.37600,"h":1.37640,"l":1.37590,"c":1.37630},
{"i":370,"o":1.37630,"h":1.37650,"l":1.37600,"c":1.37615},
{"i":371,"o":1.37615,"h":1.37660,"l":1.37610,"c":1.37650},
{"i":372,"o":1.37650,"h":1.37665,"l":1.37625,"c":1.37640},
{"i":373,"o":1.37640,"h":1.37700,"l":1.37635,"c":1.37690},
{"i":374,"o":1.37690,"h":1.37760,"l":1.37680,"c":1.37750},
{"i":375,"o":1.37750,"h":1.37800,"l":1.37740,"c":1.37790},
{"i":376,"o":1.37790,"h":1.37835,"l":1.37780,"c":1.37825},
{"i":377,"o":1.37825,"h":1.37840,"l":1.37800,"c":1.37810},
{"i":378,"o":1.37810,"h":1.37830,"l":1.37790,"c":1.37820},
{"i":379,"o":1.37820,"h":1.37845,"l":1.37780,"c":1.37790},
{"i":380,"o":1.37790,"h":1.37810,"l":1.37770,"c":1.37800},
{"i":381,"o":1.37800,"h":1.37830,"l":1.37790,"c":1.37825},
{"i":382,"o":1.37825,"h":1.37835,"l":1.37780,"c":1.37790},
{"i":383,"o":1.37790,"h":1.37810,"l":1.37770,"c":1.37780},
{"i":384,"o":1.37780,"h":1.37815,"l":1.37775,"c":1.37810},
{"i":385,"o":1.37810,"h":1.37830,"l":1.37790,"c":1.37795},
{"i":386,"o":1.37795,"h":1.37820,"l":1.37780,"c":1.37815},
{"i":387,"o":1.37815,"h":1.37820,"l":1.37760,"c":1.37770},
{"i":388,"o":1.37770,"h":1.37790,"l":1.37740,"c":1.37780},
{"i":389,"o":1.37780,"h":1.37785,"l":1.37713,"c":1.37740},
{"i":390,"o":1.37740,"h":1.37800,"l":1.37735,"c":1.37790},
{"i":391,"o":1.37790,"h":1.37850,"l":1.37785,"c":1.37840},
{"i":392,"o":1.37840,"h":1.37870,"l":1.37820,"c":1.37830},
{"i":393,"o":1.37830,"h":1.37880,"l":1.37825,"c":1.37870},
{"i":394,"o":1.37870,"h":1.37930,"l":1.37860,"c":1.37920},
{"i":395,"o":1.37920,"h":1.37970,"l":1.37910,"c":1.37960},
{"i":396,"o":1.37960,"h":1.37980,"l":1.37930,"c":1.37940},
{"i":397,"o":1.37940,"h":1.37990,"l":1.37935,"c":1.37980},
{"i":398,"o":1.37980,"h":1.37998,"l":1.37950,"c":1.37960},
{"i":399,"o":1.37960,"h":1.37995,"l":1.37955,"c":1.37990},
{"i":400,"o":1.37990,"h":1.38000,"l":1.37960,"c":1.37970},
{"i":401,"o":1.37970,"h":1.37985,"l":1.37945,"c":1.37950},
{"i":402,"o":1.37950,"h":1.37990,"l":1.37940,"c":1.37980},
{"i":403,"o":1.37980,"h":1.37990,"l":1.37950,"c":1.37960},
{"i":404,"o":1.37960,"h":1.37975,"l":1.37930,"c":1.37940},
{"i":405,"o":1.37940,"h":1.37970,"l":1.37935,"c":1.37965},
{"i":406,"o":1.37965,"h":1.37980,"l":1.37940,"c":1.37950},
{"i":407,"o":1.37950,"h":1.37960,"l":1.37920,"c":1.37930},
{"i":408,"o":1.37930,"h":1.37975,"l":1.37925,"c":1.37970},
{"i":409,"o":1.37970,"h":1.37995,"l":1.37960,"c":1.37985},
{"i":410,"o":1.37985,"h":1.37990,"l":1.37950,"c":1.37955},
{"i":411,"o":1.37955,"h":1.37965,"l":1.37925,"c":1.37935},
{"i":412,"o":1.37935,"h":1.37970,"l":1.37930,"c":1.37960},
{"i":413,"o":1.37960,"h":1.37965,"l":1.37930,"c":1.37940},
{"i":414,"o":1.37940,"h":1.37950,"l":1.37900,"c":1.37910},
{"i":415,"o":1.37910,"h":1.37950,"l":1.37905,"c":1.37945},
{"i":416,"o":1.37945,"h":1.37960,"l":1.37930,"c":1.37950},
{"i":417,"o":1.37950,"h":1.37955,"l":1.37859,"c":1.37900},
{"i":418,"o":1.37900,"h":1.37940,"l":1.37895,"c":1.37935},
{"i":419,"o":1.37935,"h":1.37960,"l":1.37925,"c":1.37950},
{"i":420,"o":1.37950,"h":1.37965,"l":1.37935,"c":1.37945},
{"i":421,"o":1.37945,"h":1.37955,"l":1.37915,"c":1.37925},
{"i":422,"o":1.37925,"h":1.37960,"l":1.37920,"c":1.37955},
{"i":423,"o":1.37955,"h":1.37965,"l":1.37935,"c":1.37940},
{"i":424,"o":1.37940,"h":1.37984,"l":1.37935,"c":1.37975},
{"i":425,"o":1.37975,"h":1.37980,"l":1.37930,"c":1.37935},
{"i":426,"o":1.37935,"h":1.37955,"l":1.37920,"c":1.37950},
{"i":427,"o":1.37950,"h":1.37960,"l":1.37925,"c":1.37930},
{"i":428,"o":1.37930,"h":1.37945,"l":1.37905,"c":1.37915},
{"i":429,"o":1.37915,"h":1.37950,"l":1.37910,"c":1.37945},
{"i":430,"o":1.37945,"h":1.37955,"l":1.37920,"c":1.37925},
{"i":431,"o":1.37925,"h":1.37935,"l":1.37890,"c":1.37900},
{"i":432,"o":1.37900,"h":1.37930,"l":1.37880,"c":1.37920},
{"i":433,"o":1.37920,"h":1.37925,"l":1.37875,"c":1.37885},
{"i":434,"o":1.37885,"h":1.37930,"l":1.37880,"c":1.37925},
{"i":435,"o":1.37925,"h":1.37990,"l":1.37920,"c":1.37980},
{"i":436,"o":1.37980,"h":1.38039,"l":1.37970,"c":1.38030},
{"i":437,"o":1.38030,"h":1.38040,"l":1.37960,"c":1.37970},
{"i":438,"o":1.37970,"h":1.37990,"l":1.37895,"c":1.37905},
{"i":439,"o":1.37905,"h":1.37970,"l":1.37900,"c":1.37960},
{"i":440,"o":1.37960,"h":1.38060,"l":1.37955,"c":1.38050},
{"i":441,"o":1.38050,"h":1.38070,"l":1.38020,"c":1.38030},
{"i":442,"o":1.38030,"h":1.38085,"l":1.38025,"c":1.38080},
{"i":443,"o":1.38080,"h":1.38109,"l":1.38060,"c":1.38070},
{"i":444,"o":1.38070,"h":1.38095,"l":1.38045,"c":1.38090},
{"i":445,"o":1.38090,"h":1.38100,"l":1.38040,"c":1.38050},
{"i":446,"o":1.38050,"h":1.38080,"l":1.38030,"c":1.38070},
{"i":447,"o":1.38070,"h":1.38090,"l":1.38050,"c":1.38060},
{"i":448,"o":1.38060,"h":1.38075,"l":1.38010,"c":1.38020},
{"i":449,"o":1.38020,"h":1.38050,"l":1.38000,"c":1.38040},
{"i":450,"o":1.38040,"h":1.38055,"l":1.38020,"c":1.38025},
{"i":451,"o":1.38025,"h":1.38060,"l":1.38015,"c":1.38055},
{"i":452,"o":1.38055,"h":1.38067,"l":1.38030,"c":1.38035},
{"i":453,"o":1.38035,"h":1.38050,"l":1.38000,"c":1.38010},
{"i":454,"o":1.38010,"h":1.38045,"l":1.37995,"c":1.38040},
{"i":455,"o":1.38040,"h":1.38060,"l":1.38025,"c":1.38030},
{"i":456,"o":1.38030,"h":1.38045,"l":1.37990,"c":1.38000},
{"i":457,"o":1.38000,"h":1.38015,"l":1.37991,"c":1.38005},
{"i":458,"o":1.38005,"h":1.38060,"l":1.38000,"c":1.38050},
{"i":459,"o":1.38050,"h":1.38065,"l":1.38035,"c":1.38045},
{"i":460,"o":1.38045,"h":1.38075,"l":1.38040,"c":1.38070},
{"i":461,"o":1.38070,"h":1.38080,"l":1.38050,"c":1.38055},
{"i":462,"o":1.38055,"h":1.38070,"l":1.38045,"c":1.38065},
{"i":463,"o":1.38065,"h":1.38072,"l":1.38050,"c":1.38058},
{"i":464,"o":1.38058,"h":1.38068,"l":1.38052,"c":1.38062},
{"i":465,"o":1.38060,"h":1.38066,"l":1.38060,"c":1.38065}
]
},
"resolve":{"axis":{"x":"independent","y":"independent"}},
"layer":[
{"data":{"name":"bars"},
 "mark":{"type":"rule","color":"black","strokeWidth":1,"opacity":0},
 "encoding":{
  "x":{"field":"i","type":"quantitative","scale":{"domain":[-0.25,935.25],"nice":false,"zero":false},
   "axis":{"orient":"top","values":[16,32,48,64,80,96,112,128,144,160,176,192,208,224,240,256,272,288,304,320,336,352,368,384,400,416,432,448,464,480,496,512,528,544,560,576,592,608,624,640,656,672,688,704,720,736,752,768,784,800,816,832,848,864,880,896,912,928],
    "grid":true,"gridColor":"#c0c0c0","gridDash":[4,3],"gridWidth":1,"labels":false,"ticks":false,"domain":false,"title":null}},
  "y":{"field":"l","type":"quantitative","scale":{"domain":[1.35599,1.386411],"nice":false,"zero":false},
   "axis":{"orient":"right","values":[1.38575,1.3847,1.38365,1.3826,1.38155,1.3805,1.37945,1.3784,1.3774,1.37635,1.3753,1.37425,1.3732,1.37215,1.3711,1.37005,1.369,1.368,1.36695,1.3659,1.36485,1.3638,1.36275,1.3617,1.36065,1.35965,1.3586,1.3576,1.35655],
    "labelExpr":"indexof([1.38155,1.3805,1.37945,1.3784,1.3774], datum.value) >= 0 ? '' : format(datum.value, '.5f')",
    "grid":true,"gridColor":"#c0c0c0","gridDash":[4,3],"gridWidth":1,"domain":true,"domainColor":"black","domainWidth":1.5,"ticks":true,"tickColor":"black","tickSize":4,"labelFont":"Liberation Sans","labelFontSize":17.5,"labelColor":"black","labelPadding":7,"labelAlign":"left","labelBaseline":"middle","labelOverlap":false,"labelFlush":false,"title":null}},
  "y2":{"field":"h"}}},
{"data":{"name":"levels"},
 "transform":[{"filter":"indexof(['piv','tgt','bid'], datum.id) < 0"}],
 "mark":{"type":"rule","strokeWidth":1,"strokeDash":[8,4,2,4]},
 "encoding":{
  "y":{"field":"price","type":"quantitative","axis":null},
  "color":{"field":"id","type":"nominal","legend":null,
   "scale":{"domain":["tgt","p2","p1","h1r","m7","m6","m5","piv","m3","m2","m1","h1s","n1","n2","bid"],
    "range":["#FF0000","#C71585","#FF00FF","#1E90FF","#FF8C00","#FF4500","#556B2F","#1E90FF","#556B2F","#FF4500","#FF8C00","#1E90FF","#FF00FF","#C71585","#C0C0C0"]}}}},
{"data":{"name":"levels"},
 "transform":[{"filter":"indexof(['piv','tgt','bid'], datum.id) >= 0"}],
 "mark":{"type":"rule","strokeWidth":1},
 "encoding":{
  "y":{"field":"price","type":"quantitative","axis":null},
  "color":{"field":"id","type":"nominal","legend":null}}},
{"data":{"name":"levels"},
 "transform":[{"filter":"datum.label != ''"}],
 "mark":{"type":"text","align":"center","baseline":"top","fontSize":21,"font":"Liberation Sans"},
 "encoding":{
  "x":{"datum":440.5,"type":"quantitative","axis":null},
  "y":{"field":"price","type":"quantitative","axis":null},
  "text":{"field":"label"},
  "color":{"field":"id","type":"nominal","legend":null}}},
{"data":{"name":"bars"},
 "mark":{"type":"rule","color":"black","strokeWidth":1},
 "encoding":{
  "x":{"field":"i","type":"quantitative","axis":null},
  "y":{"field":"l","type":"quantitative","axis":null},
  "y2":{"field":"h"}}},
{"data":{"name":"bars"},
 "mark":{"type":"bar","width":2,"stroke":"black","strokeWidth":1},
 "encoding":{
  "x":{"field":"i","type":"quantitative",
   "axis":{"orient":"bottom","values":[0,32,64,96,128,160,192,224,256,288,320,352,384,416,448],
    "labelExpr":"['7 Oct 2024','8 Oct 06:00','8 Oct 22:00','9 Oct 14:00','10 Oct 06:00','10 Oct 22:00','11 Oct 14:00','14 Oct 06:00','14 Oct 22:00','15 Oct 14:00','16 Oct 06:00','16 Oct 22:00','17 Oct 14:00','18 Oct 06:00','18 Oct 22:00'][round(datum.value/32)]",
    "grid":false,"domain":true,"domainColor":"black","domainWidth":1.5,"ticks":true,"tickColor":"black","tickSize":4,"labelFont":"Liberation Sans","labelFontSize":18,"labelColor":"black","labelAlign":"left","labelBaseline":"top","labelPadding":5,"labelOverlap":false,"labelFlush":false,"title":null}},
  "y":{"field":"o","type":"quantitative","axis":null},
  "y2":{"field":"c"},
  "fill":{"condition":{"test":"datum.c < datum.o","value":"black"},"value":"white"}}},
{"data":{"name":"trend"},
 "transform":[{"filter":"datum.id == 'b1' || datum.id == 'b2'"}],
 "mark":{"type":"rule","color":"#4159F0","strokeWidth":5,"strokeCap":"round"},
 "encoding":{
  "x":{"field":"k1","type":"quantitative","axis":null},
  "y":{"field":"p1","type":"quantitative","axis":null},
  "x2":{"field":"k2"},"y2":{"field":"p2"}}},
{"data":{"name":"trend"},
 "transform":[{"filter":"datum.id == 'u1' || datum.id == 'u2'"}],
 "mark":{"type":"rule","color":"#B277E3","strokeWidth":5,"strokeCap":"round"},
 "encoding":{
  "x":{"field":"k1","type":"quantitative","axis":null},
  "y":{"field":"p1","type":"quantitative","axis":null},
  "x2":{"field":"k2"},"y2":{"field":"p2"}}},
{"data":{"name":"arrows"},
 "transform":[{"filter":"datum.id == 'a1' || datum.id == 'a4'"}],
 "mark":{"type":"rule","color":"#F44141","strokeWidth":5},
 "encoding":{
  "x":{"field":"k1","type":"quantitative","axis":null},
  "y":{"field":"p1","type":"quantitative","axis":null},
  "x2":{"field":"k2"},"y2":{"field":"p2"}}},
{"data":{"name":"arrows"},
 "transform":[{"filter":"datum.id == 'a2' || datum.id == 'a3' || datum.id == 'a5'"}],
 "mark":{"type":"rule","color":"#F44141","strokeWidth":5,"strokeDash":[20,12]},
 "encoding":{
  "x":{"field":"k1","type":"quantitative","axis":null},
  "y":{"field":"p1","type":"quantitative","axis":null},
  "x2":{"field":"k2"},"y2":{"field":"p2"}}},
{"data":{"name":"arrows"},
 "transform":[{"filter":"datum.id == 'a1' || datum.id == 'a2'"}],
 "mark":{"type":"point","shape":"triangle","filled":true,"color":"#F44141","opacity":1,"size":450,"angle":20},
 "encoding":{
  "x":{"field":"k2","type":"quantitative","axis":null},
  "y":{"field":"p2","type":"quantitative","axis":null}}},
{"data":{"name":"arrows"},
 "transform":[{"filter":"datum.id == 'a3' || datum.id == 'a4' || datum.id == 'a5'"}],
 "mark":{"type":"point","shape":"triangle","filled":true,"color":"#F44141","opacity":1,"size":450,"angle":162},
 "encoding":{
  "x":{"field":"k2","type":"quantitative","axis":null},
  "y":{"field":"p2","type":"quantitative","axis":null}}},
{"data":{"name":"levels"},
 "transform":[{"filter":"datum.id != 'bid'"}],
 "mark":{"type":"rect","yOffset":-6,"y2Offset":17},
 "encoding":{
  "x":{"datum":935.75,"type":"quantitative","axis":null},
  "x2":{"datum":955.75},
  "y":{"field":"price","type":"quantitative","axis":null},
  "y2":{"field":"price"},
  "color":{"field":"id","type":"nominal","legend":null}}},
{"data":{"name":"levels"},
 "transform":[{"filter":"datum.id != 'bid'"}],
 "mark":{"type":"text","align":"left","baseline":"middle","fontSize":17.5,"font":"Liberation Sans","color":"white","dy":5.5},
 "encoding":{
  "x":{"datum":938,"type":"quantitative","axis":null},
  "y":{"field":"price","type":"quantitative","axis":null},
  "text":{"field":"price","type":"quantitative","format":".5f"}}},
{"data":{"name":"levels"},
 "transform":[{"filter":"datum.id == 'tgt'"}],
 "mark":{"type":"point","shape":"square","filled":false,"color":"#FF0000","strokeWidth":1.2,"size":20,"opacity":1},
 "encoding":{
  "x":{"datum":934.6,"type":"quantitative","axis":null},
  "y":{"field":"price","type":"quantitative","axis":null}}},
{"data":{"values":[{}]},
 "mark":{"type":"point","shape":"triangle-down","filled":true,"color":"#c0c0c0","opacity":1,"size":200},
 "encoding":{
  "x":{"datum":465.5,"type":"quantitative","axis":null},
  "y":{"datum":1.38632,"type":"quantitative","axis":null}}},
{"data":{"values":[{}]},
 "mark":{"type":"point","shape":"triangle-down","filled":true,"color":"black","opacity":1,"size":64},
 "encoding":{
  "x":{"datum":2,"type":"quantitative","axis":null},
  "y":{"datum":1.38618,"type":"quantitative","axis":null}}},
{"data":{"name":"header"},
 "mark":{"type":"text","align":"left","baseline":"alphabetic","fontSize":18,"font":"Liberation Sans","color":"black"},
 "encoding":{
  "x":{"datum":6.75,"type":"quantitative","axis":null},
  "y":{"datum":1.38607,"type":"quantitative","axis":null},
  "text":{"field":"text"}}}
]
}
